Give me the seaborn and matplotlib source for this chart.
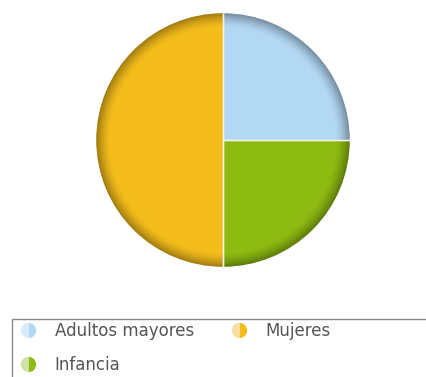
import matplotlib
matplotlib.use("Agg")
import matplotlib.pyplot as plt
from matplotlib.patches import Wedge, Rectangle
from matplotlib.lines import Line2D
import numpy as np
import seaborn as sns

# Data
categories = ["Adultos mayores", "Infancia", "Mujeres"]
values = [25, 25, 50]

sns.set_style("white")
plt.rcParams["font.family"] = ["DejaVu Sans"]

palette = sns.color_palette(["#B3D8F4", "#8EBB12", "#F4BD1C"])
pale = {"Adultos mayores": "#D9EBFA", "Infancia": "#CFE3A8", "Mujeres": "#F8DFA0"}
color_of = dict(zip(categories, palette))

W, H = 427, 377
fig = plt.figure(figsize=(W / 100, H / 100), dpi=100)

# Pie axes (centre ~ (223, 140) px, radius ~ 128 px)
cx, cy, r = 223, 140, 128
ax = fig.add_axes([(cx - r) / W, (H - cy - r) / H, 2 * r / W, 2 * r / H])
wedges, _ = ax.pie(values, colors=palette, startangle=90, counterclock=False,
                   radius=1.0, wedgeprops=dict(edgecolor="none"))

# Rim shading: darker ring towards the edge
steps = 16
inner = 0.89
for i in range(steps):
    r0 = inner + (1 - inner) * i / steps
    a = 0.36 * ((i + 1) / steps) ** 1.6
    ax.add_patch(Wedge((0, 0), r0 + (1 - inner) / steps, 0, 360,
                       width=(1 - inner) / steps, facecolor="black",
                       edgecolor="none", alpha=a))

# Light separators between slices
for w in wedges:
    for ang in (w.theta1, w.theta2):
        t = np.deg2rad(ang)
        ax.plot([0, np.cos(t)], [0, np.sin(t)], color="#F2F2EA", lw=1.0,
                solid_capstyle="butt")

ax.set_xlim(-1.01, 1.01)
ax.set_ylim(-1.01, 1.01)
ax.set_aspect("equal")
ax.axis("off")

# Legend frame
fig.patches.append(Rectangle((12.5 / W, -0.05), 1.0, (H - 319) / H + 0.05,
                             transform=fig.transFigure, facecolor="white",
                             edgecolor="#8A8A8A", lw=1.0))

# Column-major fill: first column Adultos mayores / Infancia, second Mujeres
handles = [Line2D([], [], linestyle="none", marker="o", markersize=11,
                  fillstyle="right", markerfacecolor=color_of[c],
                  markerfacecoloralt=pale[c], markeredgecolor="none")
           for c in categories]
fig.legend(handles, categories, loc="upper left",
           bbox_to_anchor=(18 / W, (H - 322) / H), ncol=2, frameon=False,
           fontsize=12, labelcolor="#555555", handlelength=1.2,
           handletextpad=1.0, columnspacing=2.1, labelspacing=0.95,
           borderaxespad=0, borderpad=0)

fig.savefig("out.png", dpi=100)
